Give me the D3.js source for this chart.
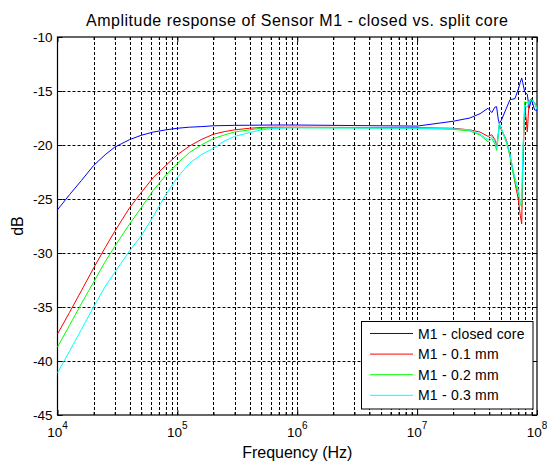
<!DOCTYPE html>
<meta charset="utf-8">
<script src="https://d3js.org/d3.v7.min.js"></script>
<style>
  body { margin: 0; background: #fff; }
  text { font-family: "Liberation Sans", Arial, sans-serif; fill: #000; }
</style>
<div id="chart"></div>
<script>
// frequency points (Hz), shared by all series
var freqs = [1e4, 1.26e4, 1.58e4, 2e4, 2.5e4, 3e4, 4e4, 5e4, 6.3e4, 8e4,
  1e5, 1.26e5, 1.58e5, 2e5, 2.5e5, 3e5, 4e5, 5e5, 6.3e5, 8e5,
  1e6, 3e6, 1e7, 2e7, 2.75e7, 3.35e7, 3.9e7, 4.2e7, 4.45e7, 4.6e7,
  4.75e7, 4.85e7, 5.05e7, 5.55e7, 5.95e7, 6.3e7, 6.55e7, 7.0e7, 7.25e7, 7.45e7,
  7.6e7, 7.9e7, 8.3e7, 8.6e7, 9.0e7, 9.55e7, 1e8];

var closedCore = [-26.0, -24.6, -23.3, -21.9, -20.9, -20.2, -19.5, -19.1, -18.8, -18.6,
  -18.45, -18.35, -18.3, -18.22, -18.2, -18.18, -18.17, -18.16, -18.15, -18.15,
  -18.15, -18.2, -18.25, -17.8, -17.5, -17.1, -16.6, -17.0, -16.5, -16.45,
  -17.6, -18.0, -17.7, -16.6, -15.8, -15.75, -15.7, -14.8, -14.2, -13.8,
  -14.2, -15.1, -15.3, -16.6, -15.8, -16.75, -16.8];

var gap01 = [-37.5, -35.5, -33.5, -31.4, -29.5, -28.0, -25.8, -24.4, -23.0, -21.9,
  -20.9, -20.1, -19.5, -19.0, -18.75, -18.6, -18.45, -18.38, -18.35, -18.35,
  -18.35, -18.38, -18.4, -18.45, -18.6, -18.8, -19.2, -19.05, -19.5, -20.15,
  -19.0, -18.15, -18.6, -19.5, -21.0, -22.3, -23.5, -25.1, -26.5, -27.3,
  -22.7, -16.1, -18.8, -15.9, -15.7, -16.1, -16.7];

var gap02 = [-38.7, -36.7, -34.7, -32.7, -30.8, -29.4, -27.3, -25.8, -24.2, -22.8,
  -21.7, -20.7, -20.0, -19.4, -19.05, -18.8, -18.6, -18.45, -18.42, -18.4,
  -18.4, -18.42, -18.45, -18.55, -18.7, -19.07, -19.7, -19.4, -19.9, -20.5,
  -19.2, -18.0, -18.5, -19.8, -21.0, -22.6, -23.4, -24.5, -25.5, -25.7,
  -21.6, -16.0, -16.1, -16.0, -15.8, -16.1, -16.6];

var gap03 = [-41.1, -39.1, -37.1, -35.0, -33.1, -31.8, -29.8, -28.4, -26.6, -24.6,
  -23.0, -21.7, -20.9, -20.3, -19.6, -19.2, -18.85, -18.6, -18.48, -18.42,
  -18.4, -18.42, -18.45, -18.5, -18.6, -19.0, -19.5, -19.2, -19.7, -20.3,
  -19.1, -18.0, -18.5, -19.6, -20.8, -22.3, -23.0, -24.2, -25.3, -25.4,
  -21.0, -16.3, -16.5, -15.9, -15.8, -16.1, -16.7];

var seriesNames = ["M1 - closed core", "M1 - 0.1 mm", "M1 - 0.2 mm", "M1 - 0.3 mm"];
var seriesColors = ["#0000ff", "#ff0000", "#00ff00", "#00ffff"];
var yTicks = [-45, -40, -35, -30, -25, -20, -15, -10];
var xMajor = [1e4, 1e5, 1e6, 1e7, 1e8];

var W = 547, H = 464;
var pL = 57.5, pR = 537, pT = 37, pB = 415;

var svg = d3.select("#chart").append("svg")
    .attr("width", W).attr("height", H);

var x = d3.scaleLog().domain([1e4, 1e8]).range([pL, pR]);
var y = d3.scaleLinear().domain([-45, -10]).range([pB, pT]);

// minor tick positions 2..9 in each decade
var xMinor = [];
xMajor.slice(0, -1).forEach(function(d) {
  for (var k = 2; k <= 9; k++) xMinor.push(d * k);
});
var xAll = xMajor.concat(xMinor);

// grid
var grid = svg.append("g").attr("stroke", "#000").attr("stroke-width", 1)
    .attr("stroke-dasharray", "3,2");
grid.selectAll(".vg").data(xAll.filter(function(d) { return d > 1e4 && d < 1e8; }))
  .enter().append("line")
    .attr("x1", function(d) { return Math.round(x(d)) + 0.5; })
    .attr("x2", function(d) { return Math.round(x(d)) + 0.5; })
    .attr("y1", pT).attr("y2", pB);
grid.selectAll(".hg").data(yTicks.filter(function(d) { return d > -45 && d < -10; }))
  .enter().append("line")
    .attr("y1", function(d) { return Math.round(y(d)) + 0.5; })
    .attr("y2", function(d) { return Math.round(y(d)) + 0.5; })
    .attr("x1", pL).attr("x2", pR);

// axes (ticks inside the box, on all four sides)
svg.append("g").attr("transform", "translate(0," + pB + ")")
  .call(d3.axisBottom(x).tickValues(xMajor).tickSize(-5).tickFormat(""));
svg.append("g").attr("transform", "translate(0," + pB + ")")
  .call(d3.axisBottom(x).tickValues(xMinor).tickSize(-3).tickFormat(""));
svg.append("g").attr("transform", "translate(0," + pT + ")")
  .call(d3.axisTop(x).tickValues(xMajor).tickSize(-5).tickFormat(""));
svg.append("g").attr("transform", "translate(0," + pT + ")")
  .call(d3.axisTop(x).tickValues(xMinor).tickSize(-3).tickFormat(""));
svg.append("g").attr("transform", "translate(" + pL + ",0)")
  .call(d3.axisLeft(y).tickValues(yTicks).tickSize(-5).tickFormat(""));
svg.append("g").attr("transform", "translate(" + pR + ",0)")
  .call(d3.axisRight(y).tickValues(yTicks).tickSize(-5).tickFormat(""));
svg.selectAll(".domain").remove();
svg.selectAll(".tick line").attr("stroke", "#000");

svg.append("rect")
    .attr("x", pL).attr("y", pT)
    .attr("width", pR - pL).attr("height", pB - pT)
    .attr("fill", "none").attr("stroke", "#000").attr("stroke-width", 1.2);

// y tick labels
svg.selectAll(".ylab").data(yTicks).enter().append("text")
    .attr("x", pL - 5)
    .attr("y", function(d) { return y(d) + 5; })
    .attr("text-anchor", "end")
    .style("font-size", "13.5px")
    .text(function(d) { return d; });

// x tick labels as 10^n
xMajor.forEach(function(d) {
  var t = svg.append("text")
      .attr("x", x(d))
      .attr("y", 437)
      .attr("text-anchor", "middle")
      .style("font-size", "13.5px");
  t.append("tspan").text("10");
  t.append("tspan").attr("dy", -8).style("font-size", "10px")
    .text(Math.round(Math.log10(d)));
});

// lines
var line = d3.line()
    .x(function(d) { return x(d[0]); })
    .y(function(d) { return y(d[1]); });

var allSeries = [closedCore, gap01, gap02, gap03];
allSeries.forEach(function(vals, i) {
  svg.append("path")
      .datum(freqs.map(function(f, j) { return [f, vals[j]]; }))
      .attr("fill", "none")
      .attr("stroke", seriesColors[i])
      .attr("stroke-width", 1)
      .attr("d", line);
});

// title and axis labels
svg.append("text")
    .attr("x", (pL + pR) / 2).attr("y", 26)
    .attr("text-anchor", "middle")
    .style("font-size", "16px").style("letter-spacing", "0.5px")
    .text("Amplitude response of Sensor M1 - closed vs. split core");

svg.append("text")
    .attr("x", (pL + pR) / 2).attr("y", 458)
    .attr("text-anchor", "middle")
    .style("font-size", "16px")
    .text("Frequency (Hz)");

svg.append("text")
    .attr("transform", "translate(23," + (pT + pB) / 2 + ") rotate(-90)")
    .attr("text-anchor", "middle")
    .style("font-size", "16px")
    .text("dB");

// legend
var lg = svg.append("g");
lg.append("rect")
    .attr("x", 361.5).attr("y", 321.5)
    .attr("width", 171.5).attr("height", 87.5)
    .attr("fill", "#fff").attr("stroke", "#000").attr("stroke-width", 1);
seriesNames.forEach(function(name, i) {
  var cy = 333.5 + i * 20.6;
  lg.append("line")
      .attr("x1", 370).attr("x2", 413)
      .attr("y1", cy).attr("y2", cy)
      .attr("stroke", seriesColors[i]).attr("stroke-width", 1);
  lg.append("text")
      .attr("x", 418).attr("y", cy + 5)
      .style("font-size", "14px").style("letter-spacing", "0.2px")
      .text(name);
});
</script>
